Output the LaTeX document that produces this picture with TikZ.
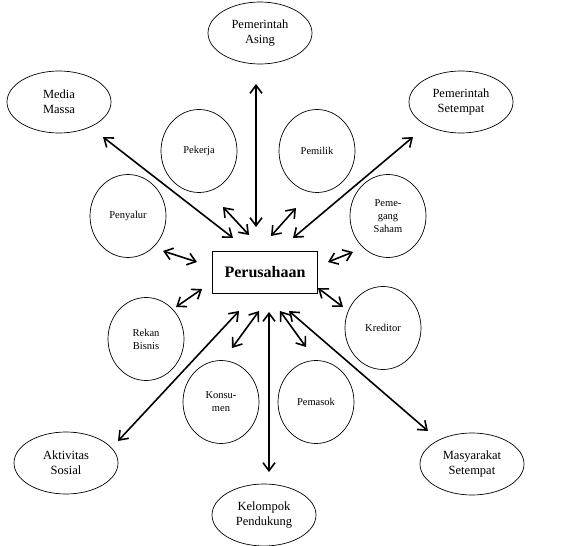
\documentclass[tikz,border=0pt]{standalone}
\usepackage{fontspec}
\setmainfont{Liberation Serif}
\usetikzlibrary{arrows.meta,shapes.geometric}
\begin{document}
\begin{tikzpicture}[x=1pt,y=-1pt,
  outer/.style={draw,line width=0.7pt,ellipse,minimum width=104pt,minimum height=62pt,inner sep=0pt,align=center,font=\fontsize{12.5}{15}\selectfont},
  inner/.style={draw,line width=0.7pt,ellipse,minimum width=76pt,minimum height=83pt,inner sep=0pt,align=center,font=\fontsize{10.5}{13}\selectfont},
  hub/.style={draw,line width=0.7pt,rectangle,minimum width=105pt,minimum height=42pt,inner sep=0pt,font=\fontsize{16}{18}\selectfont\bfseries},
  link/.style={line width=1.6pt,{Straight Barb[length=8pt,width=12pt,line width=1.6pt]}-{Straight Barb[length=8pt,width=12pt,line width=1.6pt]}}
]
\useasboundingbox (0,0) rectangle (571,546);
\node[hub] (p) at (265,272) {Perusahaan};
% outer ellipses
\node[outer] (asing) at (260,33) {Pemerintah\\Asing};
\node[outer] (media) at (59,102) {Media\\Massa};
\node[outer] (setempat) at (461,102) {Pemerintah\\Setempat};
\node[outer] (aktiv) at (66,463) {Aktivitas\\Sosial};
\node[outer] (kelompok) at (264,515) {Kelompok\\Pendukung};
\node[outer] (masy) at (472,464) {Masyarakat\\Setempat};
% inner circles
\node[inner] (pekerja) at (199,151) {Pekerja};
\node[inner] (pemilik) at (317,151) {Pemilik};
\node[inner] (penyalur) at (128,216) {Penyalur};
\node[inner] (saham) at (388,216) {Peme-\\gang\\Saham};
\node[inner] (rekan) at (146,339) {Rekan\\Bisnis};
\node[inner] (kreditor) at (383,328) {Kreditor};
\node[inner] (konsumen) at (221,402) {Konsu-\\men};
\node[inner] (pemasok) at (316,402) {Pemasok};
% arrow end coordinates
\coordinate (a1) at (256,84); \coordinate (a2) at (256,227);
\coordinate (m1) at (103,137); \coordinate (m2) at (233,238);
\coordinate (s1) at (413,137); \coordinate (s2) at (293,238);
\coordinate (k1) at (223,207); \coordinate (k2) at (249,235);
\coordinate (l1) at (296,208); \coordinate (l2) at (271,236);
\coordinate (y1) at (163,251); \coordinate (y2) at (197,262);
\coordinate (g1) at (353,252); \coordinate (g2) at (328,262);
\coordinate (r1) at (202,289); \coordinate (r2) at (176,307);
\coordinate (c1) at (318,288); \coordinate (c2) at (343,307);
\coordinate (t1) at (239,311); \coordinate (t2) at (118,441);
\coordinate (n1) at (259,311); \coordinate (n2) at (232,348);
\coordinate (d1) at (269,312); \coordinate (d2) at (269,472);
\coordinate (o1) at (280,311); \coordinate (o2) at (306,347);
\coordinate (q1) at (289,311); \coordinate (q2) at (428,431);
\foreach \u/\v in {a1/a2,m1/m2,s1/s2,k1/k2,l1/l2,y1/y2,g1/g2,r1/r2,c1/c2,t1/t2,n1/n2,d1/d2,o1/o2,q1/q2}
  \draw[link] (\u) -- (\v);
\end{tikzpicture}
\end{document}
